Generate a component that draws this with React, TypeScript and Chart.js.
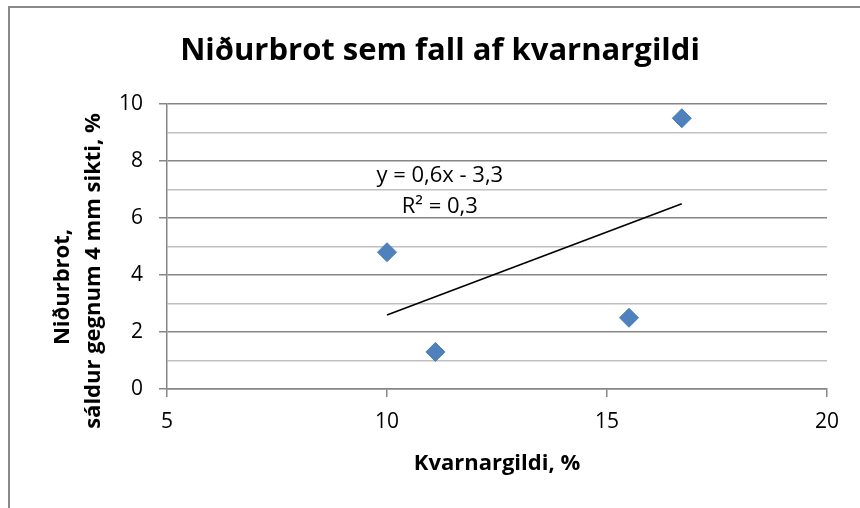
import React, { useEffect, useRef } from "react";
import { Chart, registerables } from "chart.js";

Chart.register(...registerables);

const titleText = "Niðurbrot sem fall af kvarnargildi";
const xTitle = "Kvarnargildi, %";
const yTitleLines = ["Niðurbrot,", "sáldur gegnum 4 mm sikti, %"];

const kvarnargildi = [10, 11.1, 15.5, 16.7];
const nidurbrot = [4.8, 1.3, 2.5, 9.5];

const trendX = [10, 16.7];
const trendY = [2.6, 6.5];

const eqLines = ["y = 0,6x - 3,3", "R² = 0,3"];
const eqX = [11.2, 11.2];
const eqY = [7.26, 6.18];

const FONT = "'Open Sans', sans-serif";
const MAJOR = "#868686";
const MINOR = "#c0c0c0";

const decorPlugin = {
  id: "decor",
  beforeDraw(chart: any) {
    const ctx = chart.ctx;
    ctx.save();
    ctx.fillStyle = "#ffffff";
    ctx.fillRect(0, 0, chart.width, chart.height);
    ctx.strokeStyle = "#8a8a8a";
    ctx.lineWidth = 2;
    ctx.beginPath();
    ctx.moveTo(9, chart.height + 5);
    ctx.lineTo(9, 7);
    ctx.lineTo(chart.width + 5, 7);
    ctx.stroke();
    ctx.restore();
  },
  afterDraw(chart: any) {
    const ctx = chart.ctx;
    const xs = chart.scales.x;
    const ys = chart.scales.y;
    const area = chart.chartArea;
    ctx.save();
    ctx.fillStyle = "#000000";
    ctx.textAlign = "center";
    ctx.textBaseline = "alphabetic";
    // title
    ctx.font = `bold 31px ${FONT}`;
    ctx.fillText(titleText, 440, 60);
    // x title
    ctx.font = `bold 22px ${FONT}`;
    ctx.fillText(xTitle, (area.left + area.right) / 2, 470);
    // y title
    ctx.save();
    ctx.rotate(-Math.PI / 2);
    ctx.fillText(yTitleLines[0], -287, 69);
    ctx.fillText(yTitleLines[1], -271, 100);
    ctx.restore();
    // equation
    ctx.font = `22px ${FONT}`;
    for (let i = 0; i < eqLines.length; i++) {
      ctx.fillText(eqLines[i], xs.getPixelForValue(eqX[i]), ys.getPixelForValue(eqY[i]));
    }
    ctx.restore();
  },
};

export default function App() {
  const ref = useRef<HTMLCanvasElement>(null);
  useEffect(() => {
    if (!ref.current) return;
    const chart = new Chart(ref.current, {
      type: "scatter",
      data: {
        datasets: [
          {
            type: "scatter",
            data: kvarnargildi.map((x, i) => ({ x, y: nidurbrot[i] })),
            pointStyle: "rectRot",
            pointRadius: 9.5,
            pointHoverRadius: 9.5,
            backgroundColor: "#4F81BD",
            borderColor: "#4A7EBB",
            borderWidth: 1,
            order: 2,
          },
          {
            type: "line",
            data: trendX.map((x, i) => ({ x, y: trendY[i] })),
            borderColor: "#000000",
            borderWidth: 1.6,
            pointRadius: 0,
            fill: false,
            order: 1,
          } as any,
        ],
      },
      options: {
        animation: false,
        responsive: false,
        maintainAspectRatio: false,
        layout: { padding: { top: 104, right: 33, bottom: 0, left: 0 } },
        plugins: {
          legend: { display: false },
          title: { display: false },
          tooltip: { enabled: false },
        },
        scales: {
          x: {
            type: "linear",
            min: 5,
            max: 20,
            afterFit: (s: any) => {
              s.height = 119;
            },
            ticks: {
              stepSize: 5,
              color: "#000",
              font: { family: FONT, size: 21 },
              padding: 12,
            },
            grid: {
              drawOnChartArea: false,
              drawTicks: true,
              tickLength: 8,
              color: MAJOR,
              lineWidth: 1.5,
            },
            border: { color: MAJOR, width: 1.5 },
          },
          y: {
            min: 0,
            max: 10,
            afterFit: (s: any) => {
              s.width = 167;
            },
            ticks: {
              stepSize: 1,
              autoSkip: false,
              color: "#000",
              font: { family: FONT, size: 21 },
              padding: 16,
              callback: (v: any) => (Number(v) % 2 === 0 ? String(v) : ""),
            },
            grid: {
              drawTicks: true,
              tickLength: 8,
              color: (c: any) => (c.tick && c.tick.value % 2 === 0 ? MAJOR : MINOR),
              tickColor: (c: any) => (c.tick && c.tick.value % 2 === 0 ? MAJOR : "rgba(0,0,0,0)"),
              lineWidth: 1.5,
            },
            border: { color: MAJOR, width: 1.5 },
          },
        },
      },
      plugins: [decorPlugin],
    });
    return () => chart.destroy();
  }, []);
  return (
    <div style={{ position: "fixed", left: 0, top: 0, width: 860, height: 508, background: "#fff" }}>
      <canvas ref={ref} width={860} height={508} style={{ width: 860, height: 508, display: "block" }} />
    </div>
  );
}
